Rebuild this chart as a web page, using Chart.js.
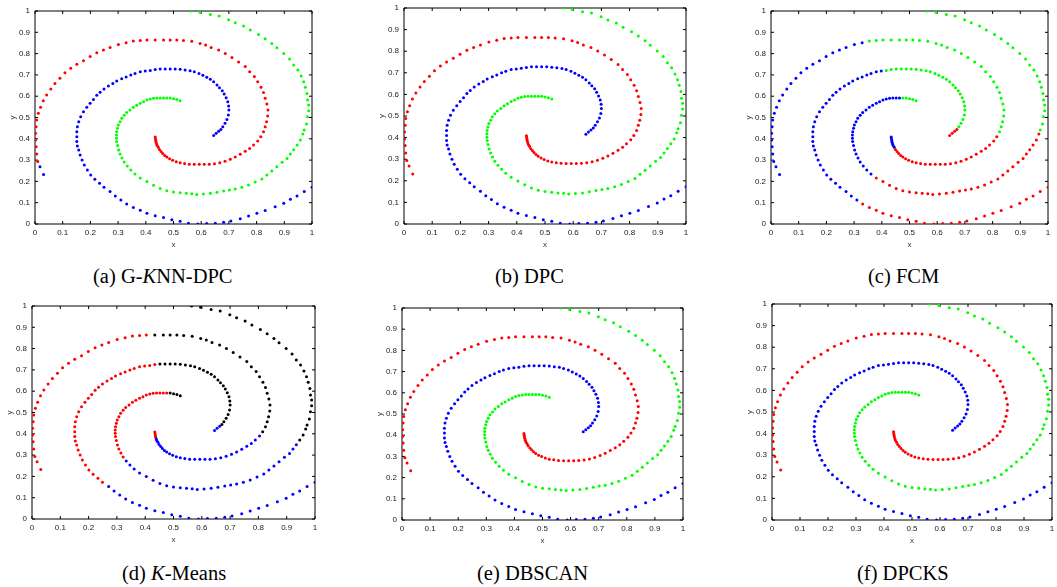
<!DOCTYPE html>
<html>
<head>
<meta charset="utf-8">
<script src="https://cdn.jsdelivr.net/npm/chart.js@4.4.1/dist/chart.umd.min.js"></script>
<style>
  html, body { margin: 0; padding: 0; background: #fff; overflow: hidden; width: 1057px; height: 587px; }
  canvas { position: absolute; }
  .cap { position: absolute; font-family: "Liberation Serif", "Times New Roman", serif; font-size: 20.5px; line-height: 20px; color: #000; white-space: nowrap; }
</style>
</head>
<body>
<script>
// three spirals, each listed from its inner end to its outer end
var spiralA = [
  [0.524,0.579],[0.512,0.585],[0.500,0.588],[0.488,0.592],[0.476,0.592],[0.464,0.592],[0.452,0.592],[0.440,0.592],
  [0.428,0.590],[0.416,0.587],[0.404,0.582],[0.392,0.574],[0.380,0.567],[0.367,0.557],[0.355,0.548],[0.343,0.535],
  [0.331,0.523],[0.322,0.510],[0.313,0.496],[0.307,0.480],[0.301,0.465],[0.298,0.449],[0.295,0.433],[0.294,0.418],
  [0.294,0.402],[0.295,0.387],[0.298,0.368],[0.302,0.347],[0.307,0.329],[0.314,0.310],[0.322,0.291],[0.333,0.272],
  [0.346,0.254],[0.361,0.235],[0.380,0.216],[0.404,0.199],[0.428,0.182],[0.452,0.167],[0.476,0.156],[0.500,0.150],
  [0.524,0.147],[0.546,0.144],[0.566,0.142],[0.584,0.139],[0.608,0.141],[0.633,0.144],[0.657,0.149],[0.681,0.155],
  [0.702,0.160],[0.723,0.164],[0.747,0.172],[0.771,0.183],[0.795,0.197],[0.819,0.211],[0.837,0.230],[0.855,0.249],
  [0.873,0.269],[0.892,0.290],[0.910,0.308],[0.922,0.329],[0.934,0.349],[0.946,0.371],[0.958,0.394],[0.967,0.423],
  [0.972,0.441],[0.980,0.469],[0.984,0.504],[0.988,0.532],[0.988,0.559],[0.984,0.582],[0.982,0.613],[0.976,0.642],
  [0.970,0.668],[0.961,0.695],[0.949,0.723],[0.934,0.746],[0.919,0.775],[0.898,0.801],[0.873,0.828],[0.855,0.848],
  [0.831,0.870],[0.807,0.890],[0.777,0.911],[0.753,0.930],[0.723,0.945],[0.699,0.959],[0.665,0.977],[0.633,0.983],
  [0.596,0.994],[0.564,1.000]
]
var spiralB = [
  [0.434,0.408],[0.435,0.400],[0.436,0.392],[0.437,0.384],[0.439,0.376],[0.441,0.368],[0.445,0.360],[0.449,0.350],
  [0.455,0.340],[0.461,0.331],[0.468,0.322],[0.476,0.314],[0.486,0.306],[0.497,0.299],[0.510,0.292],[0.524,0.287],
  [0.540,0.284],[0.557,0.281],[0.575,0.280],[0.593,0.280],[0.611,0.280],[0.629,0.281],[0.648,0.283],[0.667,0.288],
  [0.686,0.295],[0.705,0.304],[0.723,0.315],[0.741,0.328],[0.759,0.341],[0.775,0.355],[0.789,0.371],[0.804,0.390],
  [0.815,0.410],[0.825,0.433],[0.831,0.457],[0.836,0.480],[0.840,0.507],[0.841,0.535],[0.837,0.563],[0.831,0.590],
  [0.825,0.617],[0.816,0.642],[0.804,0.668],[0.792,0.692],[0.775,0.715],[0.759,0.739],[0.735,0.761],[0.711,0.782],
  [0.687,0.801],[0.663,0.817],[0.636,0.829],[0.616,0.840],[0.596,0.848],[0.566,0.858],[0.536,0.861],[0.512,0.864],
  [0.488,0.864],[0.464,0.864],[0.434,0.864],[0.404,0.864],[0.380,0.861],[0.355,0.859],[0.329,0.851],[0.301,0.843],
  [0.271,0.829],[0.247,0.817],[0.223,0.804],[0.199,0.786],[0.175,0.767],[0.151,0.750],[0.129,0.731],[0.108,0.710],
  [0.090,0.684],[0.072,0.660],[0.057,0.634],[0.042,0.606],[0.030,0.579],[0.020,0.548],[0.012,0.520],[0.006,0.488],
  [0.004,0.457],[0.002,0.426],[0.002,0.394],[0.004,0.363],[0.006,0.329],[0.010,0.294],[0.018,0.269],[0.031,0.232]
]
var spiralC = [
  [0.645,0.416],[0.654,0.426],[0.663,0.435],[0.671,0.444],[0.678,0.457],[0.686,0.473],[0.693,0.491],[0.698,0.512],
  [0.700,0.535],[0.699,0.554],[0.696,0.574],[0.690,0.593],[0.683,0.610],[0.676,0.626],[0.666,0.640],[0.657,0.653],
  [0.645,0.668],[0.633,0.679],[0.620,0.689],[0.606,0.698],[0.592,0.707],[0.575,0.715],[0.560,0.720],[0.542,0.723],
  [0.524,0.726],[0.506,0.728],[0.488,0.728],[0.470,0.728],[0.452,0.728],[0.434,0.725],[0.416,0.721],[0.398,0.718],
  [0.380,0.715],[0.361,0.707],[0.346,0.700],[0.329,0.690],[0.313,0.682],[0.295,0.671],[0.281,0.660],[0.265,0.648],
  [0.249,0.634],[0.235,0.618],[0.223,0.604],[0.211,0.585],[0.199,0.567],[0.187,0.548],[0.175,0.527],[0.165,0.504],
  [0.158,0.480],[0.153,0.457],[0.151,0.433],[0.151,0.410],[0.151,0.387],[0.153,0.366],[0.158,0.347],[0.163,0.324],
  [0.170,0.300],[0.178,0.277],[0.189,0.254],[0.201,0.230],[0.216,0.210],[0.233,0.191],[0.249,0.172],[0.271,0.152],
  [0.290,0.131],[0.310,0.113],[0.331,0.094],[0.355,0.078],[0.380,0.064],[0.404,0.050],[0.434,0.039],[0.464,0.030],
  [0.494,0.020],[0.524,0.013],[0.554,0.003],[0.588,0.000],[0.620,0.002],[0.651,0.003],[0.681,0.008],[0.707,0.014],
  [0.741,0.025],[0.771,0.038],[0.801,0.050],[0.831,0.063],[0.867,0.081],[0.898,0.097],[0.922,0.116],[0.946,0.131],
  [0.972,0.152],[1.000,0.172]
]

var tickValues = [0, 0.1, 0.2, 0.3, 0.4, 0.5, 0.6, 0.7, 0.8, 0.9, 1]

var panelTitles = ['(a) G-<i>K</i>NN-DPC', '(b) DPC', '(c) FCM', '(d) <i>K</i>-Means', '(e) DBSCAN', '(f) DPCKS']

// cluster label of each spiral per panel, as runs of [first point index, cluster]
var runsA = [
  [[0, 'g']],
  [[0, 'g']],
  [[0, 'g'], [5, 'b'], [34, 'r'], [64, 'g']],
  [[0, 'k'], [4, 'r'], [31, 'b'], [61, 'k']],
  [[0, 'g']],
  [[0, 'g']]
]
var runsB = [
  [[0, 'r'], [86, 'b']],
  [[0, 'r']],
  [[0, 'b'], [7, 'r'], [33, 'g'], [62, 'b']],
  [[0, 'r'], [4, 'b'], [32, 'k'], [59, 'r']],
  [[0, 'r']],
  [[0, 'r']]
]
var runsC = [
  [[0, 'b']],
  [[0, 'b']],
  [[0, 'r'], [4, 'g'], [31, 'b'], [66, 'r']],
  [[0, 'b'], [3, 'k'], [29, 'r'], [63, 'b']],
  [[0, 'b']],
  [[0, 'b']]
]

var palette = { r: '#ff0000', g: '#00ff00', b: '#0000ff', k: '#000000' }

// plot boxes [left, right, top, bottom] and caption spots
var boxes = [
  [35, 312, 11, 224], [404, 686, 8, 224], [771, 1048, 11, 224],
  [32, 315, 306, 519], [402, 683, 308, 520], [772, 1052, 304, 520]
]
var capLeft = [93, 495, 868, 122, 477, 857]
var capTop = [266, 266, 266, 563, 563, 563]

function colorsFor (runs, n) {
  var out = []
  var j = 0
  for (var i = 0; i < n; i++) {
    while (j + 1 < runs.length && i >= runs[j + 1][0]) j++
    out.push(palette[runs[j][1]])
  }
  return out
}

function toXY (pts) {
  return pts.map(function (p) { return { x: p[0], y: p[1] } })
}

// matlab-ish box with inward ticks on all four sides
var frameTicks = {
  id: 'frameTicks',
  beforeDatasetsDraw: function (chart) {
    var ctx = chart.ctx
    var a = chart.chartArea
    var sx = chart.scales.x
    var sy = chart.scales.y
    ctx.save()
    ctx.strokeStyle = '#000'
    ctx.lineWidth = 1
    ctx.beginPath()
    sx.ticks.forEach(function (t) {
      var px = sx.getPixelForValue(t.value)
      ctx.moveTo(px, a.bottom); ctx.lineTo(px, a.bottom - 3)
      ctx.moveTo(px, a.top); ctx.lineTo(px, a.top + 3)
    })
    sy.ticks.forEach(function (t) {
      var py = sy.getPixelForValue(t.value)
      ctx.moveTo(a.left, py); ctx.lineTo(a.left + 3, py)
      ctx.moveTo(a.right, py); ctx.lineTo(a.right - 3, py)
    })
    ctx.rect(a.left, a.top, a.right - a.left, a.bottom - a.top)
    ctx.stroke()
    ctx.restore()
  }
}

var tickFont = { family: 'Liberation Sans, Arial, sans-serif', size: 8 }
var titleFont = { family: 'Liberation Sans, Arial, sans-serif', size: 8 }

function axis (name, isX) {
  return {
    type: 'linear',
    min: 0,
    max: 1,
    afterBuildTicks: function (s) { s.ticks = tickValues.map(function (v) { return { value: v } }) },
    afterFit: function (s) { if (isX) s.height = 30; else s.width = 40 },
    grid: { display: false, drawTicks: false },
    border: { display: false },
    ticks: {
      padding: isX ? 4 : 5,
      autoSkip: false,
      maxRotation: 0,
      color: '#1a1a1a',
      font: tickFont,
      callback: function (v) { return String(+(+v).toFixed(1)) }
    },
    title: {
      display: true,
      text: name,
      color: '#333',
      font: titleFont,
      padding: isX ? { top: 0, bottom: 4 } : { top: 13, bottom: 0 }
    }
  }
}

boxes.forEach(function (b, k) {
  var canvas = document.createElement('canvas')
  var w = b[1] - b[0] + 50
  var h = b[3] - b[2] + 40
  canvas.width = w
  canvas.height = h
  canvas.style.left = (b[0] - 40) + 'px'
  canvas.style.top = (b[2] - 10) + 'px'
  canvas.style.width = w + 'px'
  canvas.style.height = h + 'px'
  document.body.appendChild(canvas)

  var sets = [[spiralA, runsA[k]], [spiralB, runsB[k]], [spiralC, runsC[k]]].map(function (s) {
    return {
      data: toXY(s[0]),
      showLine: false,
      pointRadius: 1.5,
      pointHoverRadius: 1.5,
      pointBorderWidth: 0,
      pointBackgroundColor: colorsFor(s[1], s[0].length)
    }
  })

  new Chart(canvas, {
    type: 'scatter',
    data: { datasets: sets },
    options: {
      responsive: false,
      animation: false,
      events: [],
      layout: { padding: { left: 0, top: 10, right: 10, bottom: 0 } },
      plugins: { legend: { display: false }, tooltip: { enabled: false } },
      scales: { x: axis('x', true), y: axis('y', false) }
    },
    plugins: [frameTicks]
  })

  var cap = document.createElement('div')
  cap.className = 'cap'
  cap.innerHTML = panelTitles[k]
  cap.style.left = capLeft[k] + 'px'
  cap.style.top = capTop[k] + 'px'
  document.body.appendChild(cap)
})
</script>
</body>
</html>
